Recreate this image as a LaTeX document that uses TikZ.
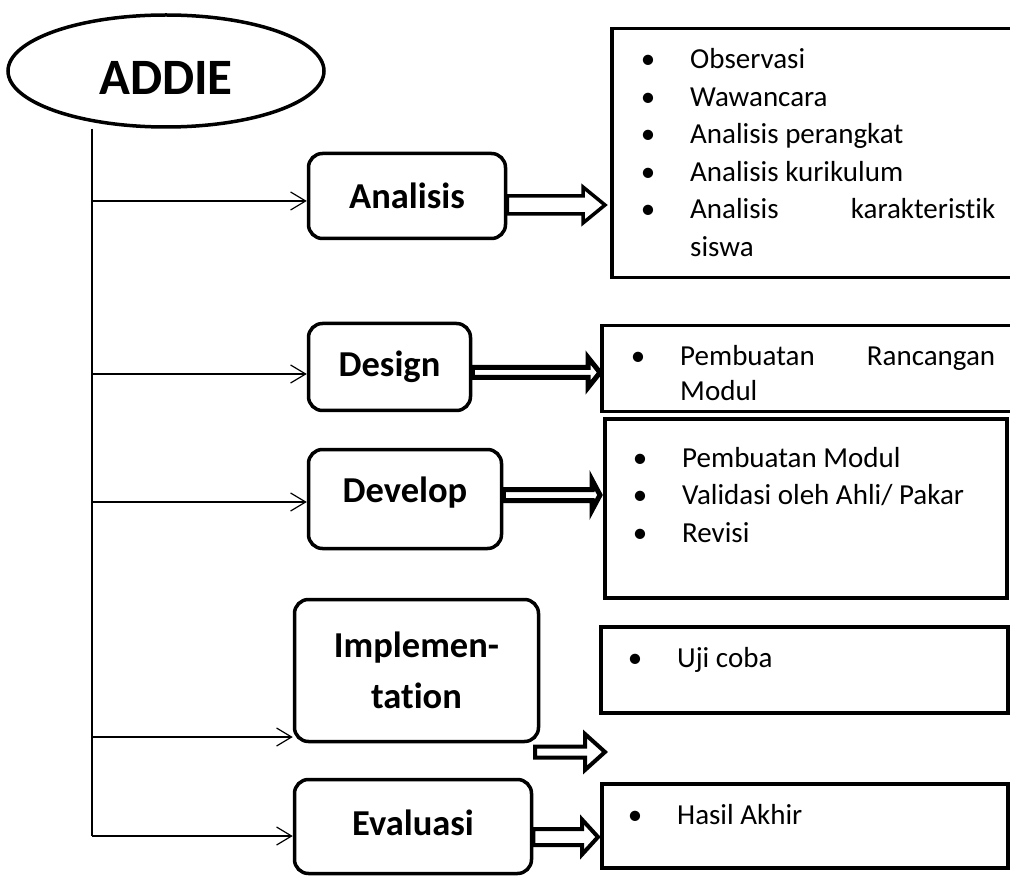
\documentclass[tikz,border=0pt]{standalone}
\usepackage{fontspec}
\setmainfont{Carlito}[Ligatures=NoCommon]
\usetikzlibrary{positioning,arrows.meta,shapes.geometric,calc}
\tikzset{
  phase/.style={rectangle,rounded corners=14pt,draw,line width=3.5pt,align=center,inner sep=0pt,font=\bfseries\fontsize{36.5}{51}\selectfont},
  outbox/.style={rectangle,draw,line width=3.5pt,anchor=north west,inner sep=0pt},
  outlist/.style={anchor=base west,inner sep=0pt,text width=380pt,align=left,font=\fontsize{29}{37.5}\selectfont},
  feed/.style={line width=1.2pt,-{Straight Barb[length=15pt,width=18pt]}},
  fat/.style={draw,fill=white,line join=miter}
}
% bullet with its gap before the item text
\newcommand{\bul}{\spaceskip=0pt\xspaceskip=0pt\makebox[20pt]{•}\hspace{32pt}}
% hollow block arrow: [line width] from, to, half shaft, half head, head length
\newcommand{\fatarrow}[6][3pt]{%
  \draw[fat,line width=#1] let \p1=(#2), \p2=(#3) in
    (\x1,\y1+#4) -- (\x2-#6,\y1+#4) -- (\x2-#6,\y1+#5) -- (\x2,\y1)
    -- (\x2-#6,\y1-#5) -- (\x2-#6,\y1-#4) -- (\x1,\y1-#4) -- cycle;}

\begin{document}
\begin{tikzpicture}[x=1pt,y=-1pt]
  \useasboundingbox (0,0) rectangle (1010,877);

  % root
  \node[ellipse,draw,line width=3.5pt,inner sep=0pt,minimum width=316pt,minimum height=112pt,
        text height=47pt,font=\bfseries\fontsize{51}{60}\selectfont] (addie) at (166,71) {ADDIE};

  % the five phases
  \node[phase,minimum width=197pt,minimum height=85pt] (ana) at (407,196) {Analisis};
  \node[phase,minimum width=162pt,minimum height=87pt] (des) at (389.5,367) {Design};
  \node[phase,minimum width=193pt,minimum height=99pt,text depth=18pt] (dev) at (405,499) {Develop};
  \node[phase,minimum width=244pt,minimum height=142pt] (imp) at (416.5,670.5) {Implemen-\\tation};
  \node[phase,minimum width=237pt,minimum height=94pt,text depth=8pt] (eva) at (413,826.5) {Evaluasi};

  % result boxes
  \node[outbox,minimum width=440pt,minimum height=249pt] (r1) at (610,27) {};
  \node[outbox,minimum width=440pt,minimum height=86pt] (r2) at (600,324) {};
  \node[outbox,minimum width=402pt,minimum height=179pt] (r3) at (603,417) {};
  \node[outbox,minimum width=407pt,minimum height=86pt] (r4) at (599,625) {};
  \node[outbox,minimum width=406pt,minimum height=84pt] (r5) at (600,782) {};

  \node[outlist] (l1) at (638,69) {\bul Observasi\\\bul Wawancara\\\bul Analisis perangkat\\
    \bul Analisis kurikulum\\\bul\makebox[305pt][l]{Analisis\hfill karakteristik}\\\hspace*{52pt}siswa};
  \node[outlist,font=\fontsize{29}{35}\selectfont] (l2) at (628,366) {\bul\makebox[315pt][l]{Pembuatan\hfill Rancangan}\\\hspace*{52pt}Modul};
  \node[outlist] (l3) at (630,467) {\bul Pembuatan Modul\\\bul Validasi oleh Ahli/ Pakar\\\bul Revisi};
  \node[outlist] (l4) at (625,667) {\bul Uji coba};
  \node[outlist] (l5) at (625,824) {\bul Hasil Akhir};

  % trunk and feeds
  \coordinate (top) at (addie.south -| 92,0);
  \coordinate (bot) at (92,836);
  \draw[line width=1.2pt] (top) -- (bot);
  \foreach \n/\y in {ana/201,des/374,dev/502,imp/737,eva/836}{
    \coordinate (b\n) at (92,\y);
    \draw[feed] (b\n) -- (\n.west |- b\n);
  }

  % block arrows to the results
  \coordinate (e1) at (605,205);
  \coordinate (e2) at (600,372.5);
  \coordinate (e3) at (600,495);
  \coordinate (s4) at (535,752);
  \coordinate (e4) at (605,752);
  \coordinate (e5) at (598,837);
  \fatarrow[3.5pt]{ana.east |- e1}{e1}{9pt}{18pt}{22pt}
  \fatarrow[5pt]{des.east |- e2}{e2}{5pt}{15pt}{12pt}
  \fatarrow[5pt]{dev.east |- e3}{e3}{5.5pt}{15pt}{8pt}
  \fatarrow[4pt]{s4}{e4}{5.5pt}{18pt}{20pt}
  \fatarrow[4pt]{eva.east |- e5}{e5}{8pt}{17.5pt}{16pt}
\end{tikzpicture}
\end{document}
